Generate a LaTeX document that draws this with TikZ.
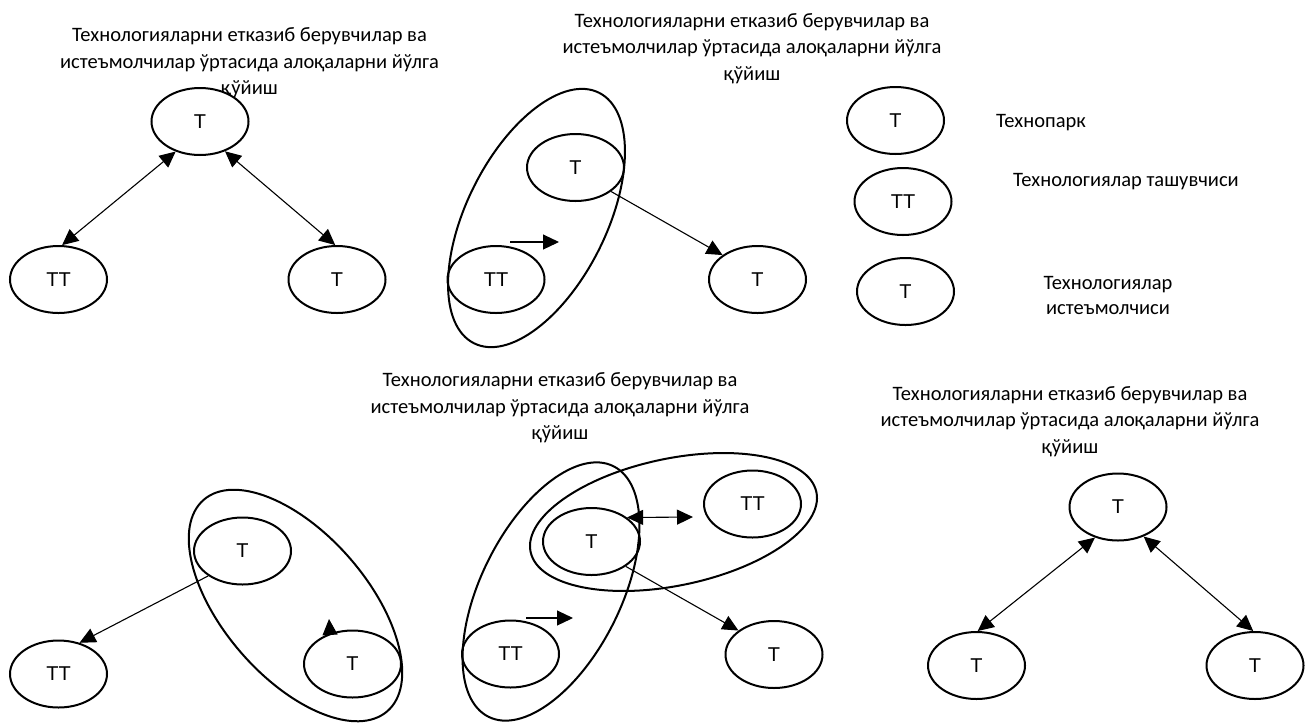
\documentclass[tikz,border=0pt]{standalone}
\usepackage{fontspec}
\setmainfont{Carlito}
\newfontfamily\arialf{Liberation Sans}
\usetikzlibrary{shapes.geometric,arrows.meta}
\begin{document}
\begin{tikzpicture}[x=1pt,y=-1pt,
  title/.style={align=center,font=\fontsize{20.5}{26.5}\selectfont,inner sep=0pt},
  legtext/.style={align=center,font=\fontsize{20.5}{25}\selectfont,inner sep=0pt},
  ell/.style={ellipse,draw,line width=2pt,fill=white,minimum width=97pt,minimum height=67pt,inner sep=0pt,font=\arialf\fontsize{20}{24}\selectfont},
  big/.style={ellipse,draw,line width=2pt,inner sep=0pt},
  con/.style={line width=1.1pt,-{Triangle[length=16pt,width=15pt]}},
  dcon/.style={line width=1.1pt,{Triangle[length=16pt,width=15pt]}-{Triangle[length=16pt,width=15pt]}},
]
\useasboundingbox (0,0) rectangle (1316,724);

% titles
\node[title] (t1) at (249.5,63) {Технологияларни етказиб берувчилар ва\\истеъмолчилар ўртасида алоқаларни йўлга\\қўйиш};
\node[title] (t2) at (752,48.5) {Технологияларни етказиб берувчилар ва\\истеъмолчилар ўртасида алоқаларни йўлга\\қўйиш};
\node[title] (t3) at (560,408) {Технологияларни етказиб берувчилар ва\\истеъмолчилар ўртасида алоқаларни йўлга\\қўйиш};
\node[title] (t4) at (1070,421.5) {Технологияларни етказиб берувчилар ва\\истеъмолчилар ўртасида алоқаларни йўлга\\қўйиш};

% panel 1
\node[ell] (p1a) at (200,121.5) {Т};
\node[ell] (p1b) at (58.5,279.5) {ТТ};
\node[ell] (p1c) at (337,279.5) {Т};

% panel 2
\node[ell] (p2a) at (575.5,167.5) {Т};
\node[ell] (p2b) at (496,279.5) {ТТ};
\node[ell] (p2c) at (757.5,279.5) {Т};
\node[big,minimum width=280pt,minimum height=140pt,rotate=63.5] (p2g) at (536.5,218) {};

% legend
\node[ell] (l1) at (895.5,120.5) {Т};
\node[ell] (l2) at (903,201.5) {ТТ};
\node[ell] (l3) at (905.5,291.5) {Т};
\node[legtext,anchor=base west] (lt1) at (996,127) {Технопарк};
\node[legtext,anchor=base west] (lt2) at (1013,186) {Технологиялар ташувчиси};
\node[legtext] (lt3) at (1108,295.5) {Технологиялар\\истеъмолчиси};

% panel 3 (bottom left)
\node[ell] (p3a) at (242.5,551) {Т};
\node[ell] (p3b) at (352.5,664) {Т};
\node[ell] (p3c) at (58.5,674) {ТТ};
\node[big,minimum width=280pt,minimum height=144pt,rotate=-49] (p3g) at (295.5,605.5) {};

% panel 4 (bottom middle)
\node[ell] (p4a) at (591.5,541.5) {Т};
\node[ell] (p4b) at (752.5,504) {ТТ};
\node[ell] (p4c) at (510.5,654) {ТТ};
\node[ell] (p4d) at (774,654.5) {Т};
\node[big,minimum width=280pt,minimum height=140pt,rotate=63.5] (p4g) at (551,591.5) {};
\node[big,minimum width=292pt,minimum height=127pt,rotate=11.8] (p4h) at (673.5,522) {};

% panel 5 (bottom right)
\node[ell] (p5a) at (1118,507) {Т};
\node[ell] (p5b) at (976.5,665.5) {Т};
\node[ell] (p5c) at (1255,665.5) {Т};

% connectors
\draw[dcon] (p1a.231) -- (p1b.84);
\draw[dcon] (p1a.310) -- (p1c.93);

\draw[con] (p2a.326) -- (p2c.145);
\coordinate (s2a) at (510,242);
\coordinate (s2b) at (559,242);
\draw[con] (s2a) -- (s2b);

\draw[con] (p3a.216) -- (p3c.56);
\coordinate (s3a) at (330,634);
\coordinate (s3b) at (329,619);
\draw[con] (s3a) -- (s3b);

\coordinate (s4e) at (693,517);
\draw[dcon] (p4a.34) -- (s4e);
\draw[con] (p4a.324) -- (p4d.146);
\coordinate (s4a) at (526,618);
\coordinate (s4b) at (573,618);
\draw[con] (s4a) -- (s4b);

\draw[dcon] (p5a.233) -- (p5b.88);
\draw[dcon] (p5a.311) -- (p5c.93);
\end{tikzpicture}
\end{document}
